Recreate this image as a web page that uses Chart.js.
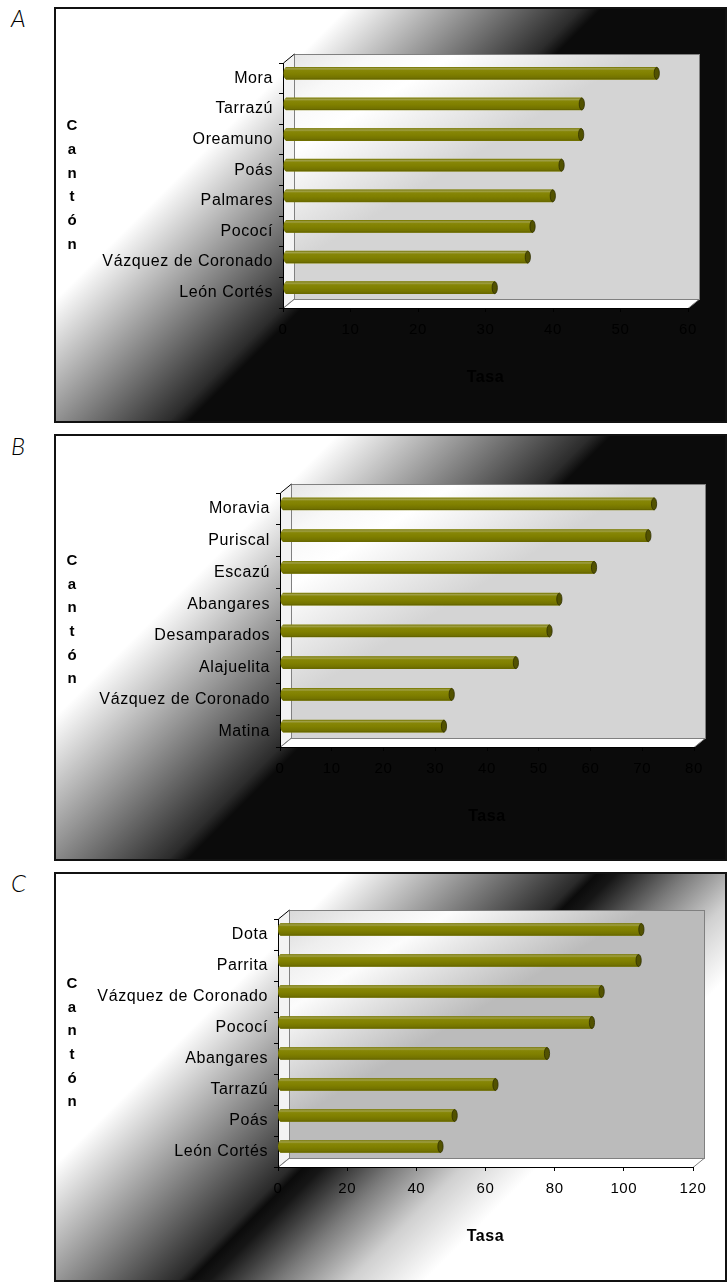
<!DOCTYPE html>
<html lang="es">
<head>
<meta charset="UTF-8" />
<title>Tasa por cantón</title>
<script src="https://cdn.jsdelivr.net/npm/chart.js@4.4.1/dist/chart.umd.min.js"></script>
<style>
  body { margin: 0; width: 727px; height: 1282px; position: relative; overflow: hidden; background: #fff; }
  .caja { position: absolute; left: 54px; width: 669px; border: 2px solid #111; }
  .caja canvas { display: block; }
  .letra { position: absolute; left: 11px; font: italic 300 24px Lato, "DejaVu Sans", sans-serif; line-height: 24px; color: #000; }
</style>
</head>
<body>
<div class="letra" style="top:6px">A</div>
<div class="caja" style="top:7px;height:412px"><canvas id="chartA" width="669" height="412"></canvas></div>
<div class="letra" style="top:434px">B</div>
<div class="caja" style="top:434px;height:423px"><canvas id="chartB" width="669" height="423"></canvas></div>
<div class="letra" style="top:871px">C</div>
<div class="caja" style="top:872px;height:406px"><canvas id="chartC" width="669" height="406"></canvas></div>
<script>
const tituloX = "Tasa";
const tituloY = "Cantón";

const cantonesA = ["Mora", "Tarrazú", "Oreamuno", "Poás", "Palmares", "Pococí", "Vázquez de Coronado", "León Cortés"];
const tasasA = [55.0, 43.9, 43.8, 40.9, 39.6, 36.6, 35.9, 31.0];

const cantonesB = ["Moravia", "Puriscal", "Escazú", "Abangares", "Desamparados", "Alajuelita", "Vázquez de Coronado", "Matina"];
const tasasB = [71.8, 70.7, 60.2, 53.5, 51.6, 45.1, 32.7, 31.2];

const cantonesC = ["Dota", "Parrita", "Vázquez de Coronado", "Pococí", "Abangares", "Tarrazú", "Poás", "León Cortés"];
const tasasC = [104.5, 103.7, 93.0, 90.2, 77.2, 62.3, 50.5, 46.4];

// eje de la tasa: maximo y paso de las marcas
const maxEje = [60, 80, 120];
const pasoEje = [10, 10, 20];

Chart.defaults.font.family = "'Liberation Sans', Arial, sans-serif";

const DX = 11, DY = -9;

const marco3d = {
  id: "marco3d",
  beforeDraw(chart, args, o) {
    const { ctx, width, height, chartArea: a } = chart;
    ctx.save();
    // fondo en diagonal
    const g = ctx.createLinearGradient(0, 0, 540, 540);
    o.fondo.forEach(([s, c]) => g.addColorStop(s / 1080, c));
    ctx.fillStyle = g;
    ctx.fillRect(0, 0, width, height);

    const L = a.left, R = a.right, T = a.top, B = a.bottom;
    const wx = L + DX, wy = T + DY, w = R - L, h = B - T;
    // pared del fondo
    const k = 2 / (1 / (w * w) + 1 / (h * h));
    const pg = ctx.createLinearGradient(wx, wy, wx + k / w, wy + k / h);
    o.pared.forEach(([t, c]) => pg.addColorStop(t, c));
    ctx.fillStyle = pg;
    ctx.fillRect(wx, wy, w, h);
    ctx.strokeStyle = "#808080";
    ctx.lineWidth = 1;
    ctx.strokeRect(wx + 0.5, wy + 0.5, w, h);
    // pared lateral
    ctx.beginPath();
    ctx.moveTo(L, T); ctx.lineTo(wx, wy); ctx.lineTo(wx, wy + h); ctx.lineTo(L, B);
    ctx.closePath();
    ctx.fillStyle = "#f3f3f3";
    ctx.fill();
    // suelo
    ctx.beginPath();
    ctx.moveTo(L, B + 0.5); ctx.lineTo(R, B + 0.5); ctx.lineTo(R + DX, B + DY + 0.5); ctx.lineTo(wx, B + DY + 0.5);
    ctx.closePath();
    ctx.fillStyle = "#fff";
    ctx.fill();
    ctx.strokeStyle = "#808080";
    ctx.stroke();
    ctx.strokeStyle = "#000";
    ctx.beginPath();
    ctx.moveTo(L + 0.5, T); ctx.lineTo(wx + 0.5, wy);
    ctx.stroke();

    // titulo vertical, letra por letra
    ctx.font = "bold 15px 'Liberation Sans', Arial, sans-serif";
    ctx.fillStyle = "#000";
    ctx.textAlign = "center";
    ctx.textBaseline = "middle";
    const letras = [...o.titulo];
    const mid = (T + B) / 2;
    letras.forEach((l, i) => ctx.fillText(l, 16, mid + (i - (letras.length - 1) / 2) * 23.7));
    ctx.restore();
    ctx.letterSpacing = "0.6px";
  },
  beforeDatasetsDraw(chart, args, o) {
    chart.ctx.save();
    chart.ctx.translate(o.bdx, o.bdy);
  },
  afterDatasetsDraw(chart, args, o) {
    const ctx = chart.ctx;
    chart.getDatasetMeta(0).data.forEach((bar) => {
      const { x, y, base, height } = bar.getProps(["x", "y", "base", "height"], true);
      const t = y - height / 2, r = height / 2;
      const g = ctx.createLinearGradient(0, t, 0, t + height);
      g.addColorStop(0, "#7a7a10");
      g.addColorStop(0.12, "#a0a048");
      g.addColorStop(0.26, "#868606");
      g.addColorStop(0.55, "#808000");
      g.addColorStop(0.88, "#727200");
      g.addColorStop(1, "#606000");
      ctx.fillStyle = g;
      ctx.beginPath();
      ctx.ellipse(base, y, 2.5, r, 0, Math.PI / 2, Math.PI * 1.5);
      ctx.lineTo(x, t);
      ctx.lineTo(x, t + height);
      ctx.closePath();
      ctx.fill();
      ctx.beginPath();
      ctx.ellipse(x, y, 2.6, r, 0, 0, Math.PI * 2);
      ctx.fillStyle = "#525200";
      ctx.fill();
      ctx.strokeStyle = "#2e2e00";
      ctx.lineWidth = 0.8;
      ctx.stroke();
    });
    ctx.restore();
  },
};

function grafico(id, cantones, tasas, n, p) {
  return new Chart(document.getElementById(id), {
    type: "bar",
    data: {
      labels: cantones,
      datasets: [{ data: tasas, backgroundColor: "#808000", borderWidth: 0, barThickness: 12 }],
    },
    options: {
      indexAxis: "y",
      responsive: false,
      animation: false,
      devicePixelRatio: 1,
      layout: { padding: { top: p.top, right: p.right, left: 0, bottom: 0 } },
      plugins: {
        legend: { display: false },
        tooltip: { enabled: false },
        marco3d: { fondo: p.fondo, pared: p.pared, titulo: tituloY, bdx: p.bdx, bdy: p.bdy },
      },
      scales: {
        x: {
          min: 0,
          max: maxEje[n],
          ticks: { stepSize: pasoEje[n], autoSkip: false, maxRotation: 0, color: "#000", font: { size: 15 }, padding: 9 },
          grid: { drawOnChartArea: false, drawTicks: true, tickLength: 4, color: "#000" },
          border: { color: "#000", width: 1 },
          title: { display: true, text: tituloX, color: "#000", font: { size: 16, weight: "bold" }, padding: { top: 0, bottom: p.tpad } },
          afterFit: (s) => { s.height = p.xh; },
        },
        y: {
          ticks: { color: "#000", font: { size: 16 }, padding: 6 },
          grid: { drawOnChartArea: false, drawTicks: true, tickLength: 4, color: "#000" },
          border: { color: "#000", width: 1 },
          afterFit: (s) => { s.width = p.yw; },
        },
      },
    },
    plugins: [marco3d],
  });
}

const paredClara = [[0, "#e6e6e6"], [0.1, "#f8f8f8"], [0.2, "#ffffff"], [0.43, "#d4d4d4"], [1, "#d4d4d4"]];
const paredGris = [[0, "#d8d8d8"], [0.1, "#eeeeee"], [0.2, "#fcfcfc"], [0.43, "#bbbbbb"], [1, "#bbbbbb"]];

grafico("chartA", cantonesA, tasasA, 0, {
  top: 54, right: 37, yw: 227, xh: 113, tpad: 34, bdx: 2.5, bdy: -5,
  fondo: [[0, "#fff"], [290, "#fff"], [525, "#2c2c2c"], [545, "#0b0b0b"], [1080, "#0b0b0b"]],
  pared: paredClara,
});
grafico("chartB", cantonesB, tasasB, 1, {
  top: 57, right: 31, yw: 224, xh: 112, tpad: 33, bdx: 2.5, bdy: -5,
  fondo: [[0, "#fff"], [280, "#fff"], [535, "#2c2c2c"], [555, "#0b0b0b"], [1080, "#0b0b0b"]],
  pared: paredClara,
});
grafico("chartC", cantonesC, tasasC, 2, {
  top: 45, right: 32, yw: 222, xh: 113, tpad: 34, bdx: 2, bdy: -5,
  fondo: [[0, "#fff"], [290, "#fff"], [528, "#2a2a2a"], [541, "#0b0b0b"], [560, "#161616"], [630, "#7a7a7a"], [700, "#d0d0d0"], [775, "#fff"], [1080, "#fff"]],
  pared: paredGris,
});
</script>
</body>
</html>
